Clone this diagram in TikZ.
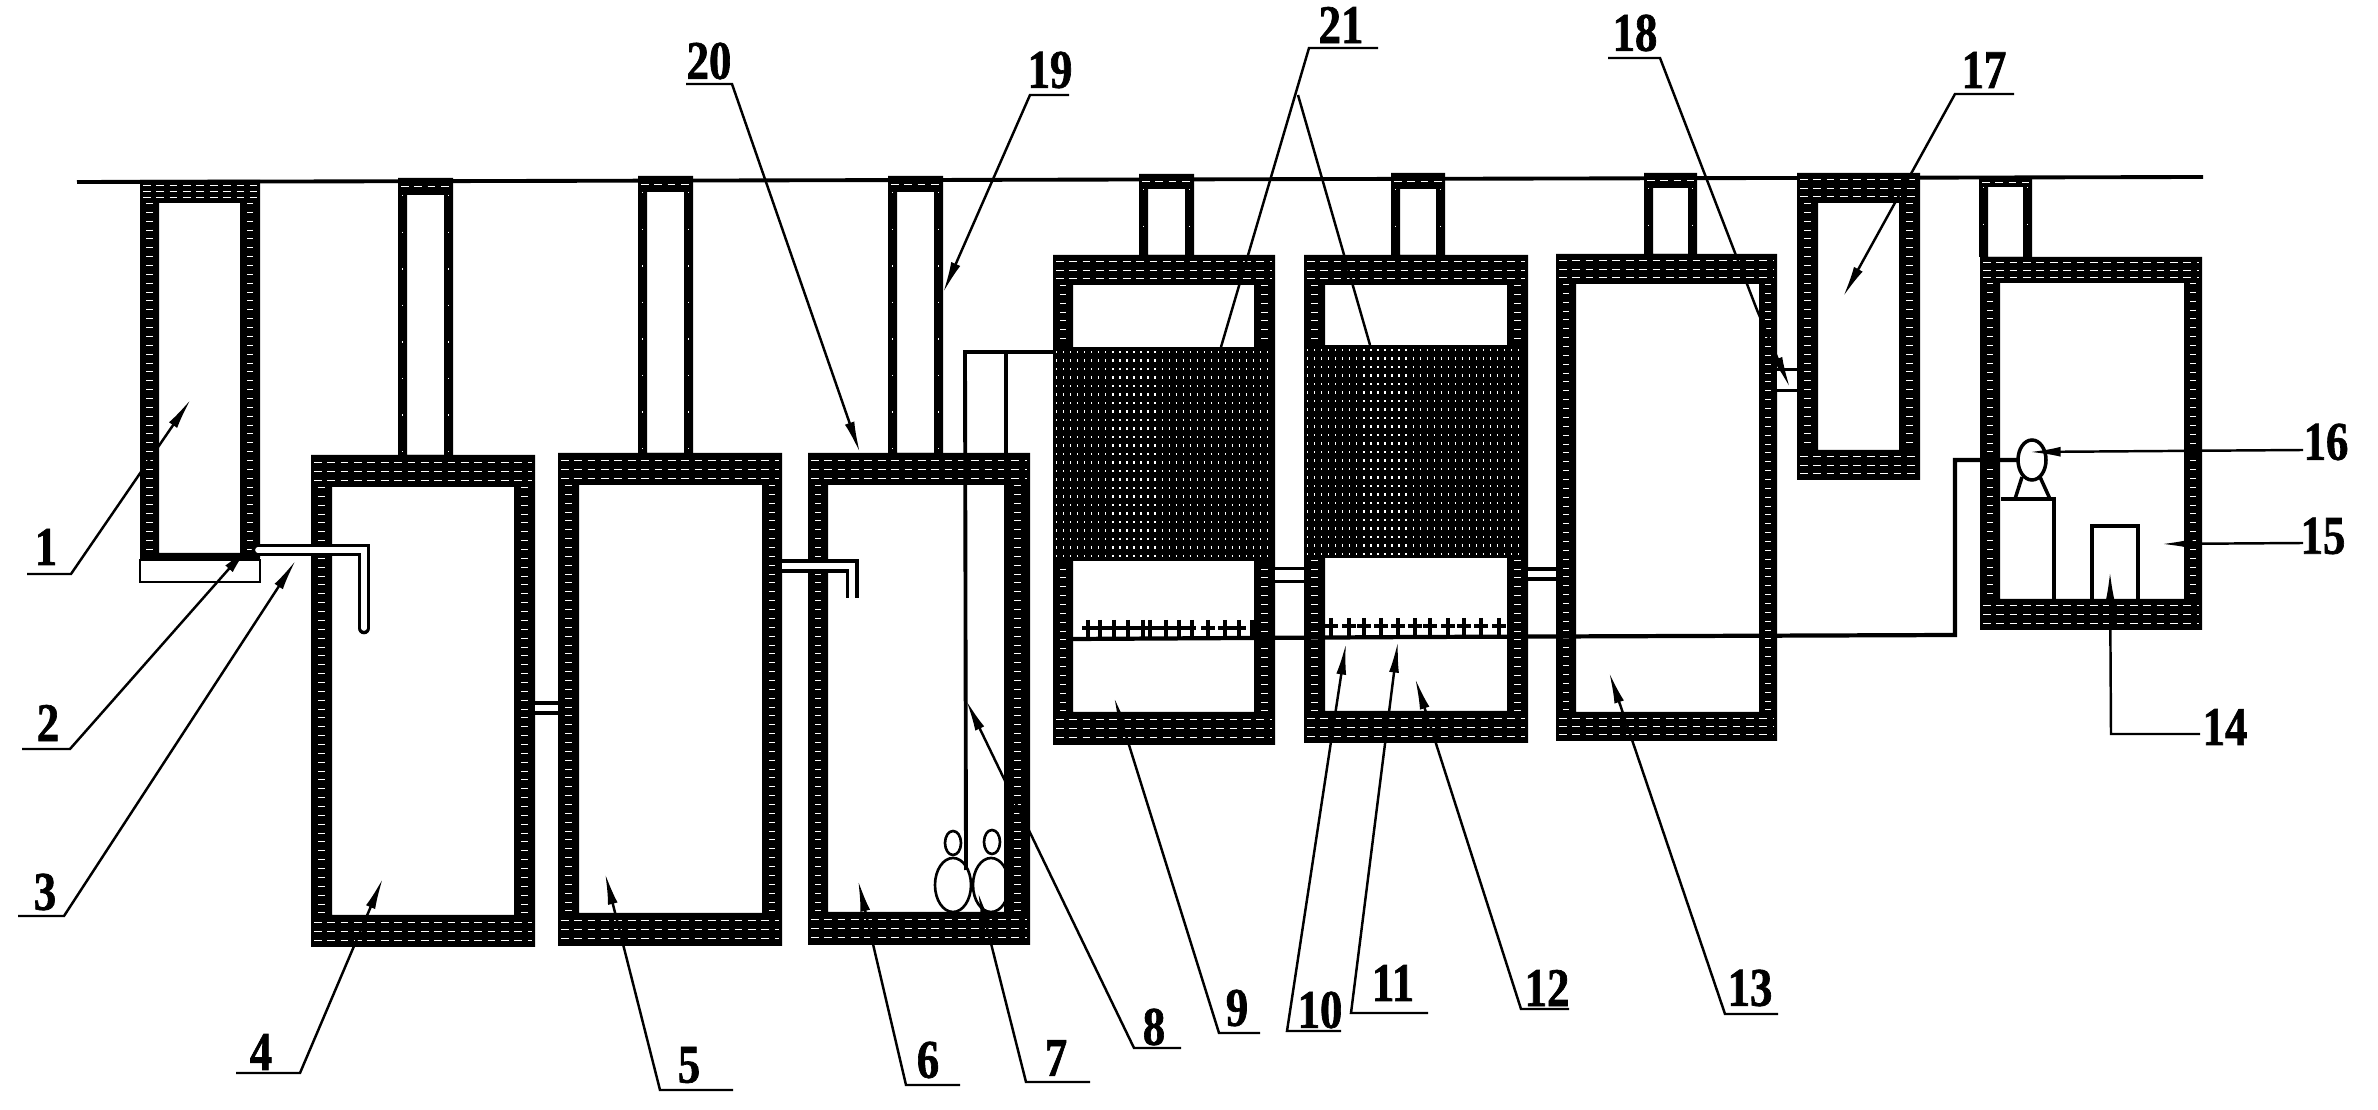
\documentclass[tikz,border=0pt]{standalone}
\usepackage{fontspec}
\usepackage{xcolor}
\usepackage{tikz}
\usetikzlibrary{arrows.meta}
\newfontfamily\numfont[FakeStretch=0.82,BoldFeatures={FakeBold=1.2}]{Liberation Serif}

% wall of a tank: outer corners, then inner corners
\newcommand{\tankwalls}[8]{%
	\fill[even odd rule] (#1,#2) rectangle (#3,#4) (#5,#6) rectangle (#7,#8);
	\foreach \f in {.22,.5,.78} {
		\draw[rowhatch] (#1+3,{#2+\f*(#6-#2)}) -- (#3-3,{#2+\f*(#6-#2)});
		\draw[rowhatch] (#1+3,{#8+\f*(#4-#8)}) -- (#3-3,{#8+\f*(#4-#8)});
	}
	\draw[tickhatch] ({(#1+#5)/2},#6) -- ({(#1+#5)/2},#8);
	\draw[tickhatch] ({(#3+#7)/2},#6) -- ({(#3+#7)/2},#8);
}
% chimney: left, right, top, underside of cap, bottom
\newcommand{\chimney}[5]{%
	\fill[even odd rule] (#1,#3) rectangle (#2,#5) (#1+9,#4) rectangle (#2-9,#5);
	\draw[rowhatch] (#1+3,{(#3+#4)/2}) -- (#2-3,{(#3+#4)/2});
	\draw[speck] (#1+4.5,#4) -- (#1+4.5,#5);
	\draw[speck] (#2-4.5,#4) -- (#2-4.5,#5);
}
% filter media: left, top, right, bottom
\newcommand{\media}[4]{%
	\fill (#1,#2) rectangle (#3,#4);
	\foreach \r in {0,...,24} {
		\draw[meshdots] (#1+3,{#2+5+\r*8.5}) -- (#3-3,{#2+5+\r*8.5});
	}
}

\begin{document}
\begin{tikzpicture}[x=0.01cm,y=-0.01cm]
		\tikzset{
			rowhatch/.style={white, line width=.25pt, dash pattern=on 2.2pt off 1.6pt},
			tickhatch/.style={white, line width=1.9pt, dash pattern=on .22pt off 2.3pt},
			speck/.style={white, line width=.5pt, dash pattern=on .4pt off 10pt},
			meshdots/.style={white, line width=.7pt, dash pattern=on .35pt off 1.65pt},
			groundline/.style={line width=1.1pt},
			pipe/.style={draw, line width=1pt, double=white, double distance=#1},
			airline/.style={line width=1.2pt},
			thinpipe/.style={line width=1.1pt},
			aerator/.style={line width=1.3pt},
			ball/.style={line width=.75pt},
			plain/.style={line width=.75pt},
			leader/.style={line width=.7pt, -{Latex[length=9pt,width=2.8pt]}},
			tag/.style={line width=.7pt},
			numlabel/.style={inner sep=0pt, font=\numfont\bfseries\fontsize{15.5}{15.5}\selectfont}
		}
		\useasboundingbox (0,0) rectangle (2378,1110);

		\draw[groundline] (77,182) -- (2203,177);

		\chimney{398}{453}{178}{195}{455}
		\chimney{638}{693}{176}{192}{453}
		\chimney{888}{943}{176}{192}{453}
		\chimney{1139}{1194}{174}{189}{255}
		\chimney{1391}{1445}{173}{189}{255}
		\chimney{1644}{1697}{173}{188}{254}
		\chimney{1979}{2032}{178}{187}{257}

		\tankwalls{140}{180}{260}{558}{159}{203}{240}{553}
		\tankwalls{311}{455}{535}{947}{332}{487}{514}{915}
		\tankwalls{558}{453}{782}{946}{579}{485}{762}{913}
		\tankwalls{808}{453}{1030}{945}{828}{485}{1005}{912}
		\tankwalls{1053}{255}{1275}{745}{1073}{285}{1254}{712}
		\tankwalls{1304}{255}{1528}{743}{1325}{285}{1507}{711}
		\tankwalls{1556}{254}{1777}{741}{1576}{284}{1759}{712}
		\tankwalls{1797}{173}{1920}{480}{1818}{203}{1899}{450}
		\tankwalls{1980}{257}{2202}{630}{2000}{283}{2184}{599}

		\media{1053}{347}{1275}{561}
		\media{1304}{345}{1528}{558}

		% floor of the first tank and the thin box under it
		\fill (140,553) rectangle (260,560);
		\draw[plain] (140,560) rectangle (260,582);

		% pipes between tanks
		\coordinate (p1a) at (258,550);
		\coordinate (p1b) at (364,550);
		\coordinate (p1c) at (364,628);
		\draw[pipe=1.6pt, line cap=round] (p1a) -- (p1b) -- (p1c);
		\coordinate (p2a) at (535,708);
		\coordinate (p2b) at (558,708);
		\draw[pipe=1.7pt] (p2a) -- (p2b);
		\coordinate (p3a) at (782,566);
		\coordinate (p3b) at (852,566);
		\coordinate (p3c) at (852,598);
		\draw[pipe=1.7pt] (p3a) -- (p3b) -- (p3c);
		\coordinate (p4a) at (1275,575);
		\coordinate (p4b) at (1304,575);
		\draw[pipe=2.6pt] (p4a) -- (p4b);
		\coordinate (p5a) at (1528,574);
		\coordinate (p5b) at (1556,574);
		\draw[pipe=1.7pt] (p5a) -- (p5b);
		\coordinate (p6a) at (1777,380);
		\coordinate (p6b) at (1797,380);
		\draw[pipe=5pt] (p6a) -- (p6b);

		% air feed to the bubble tank
		\coordinate (feedin) at (1053,352);
		\coordinate (feedl) at (965,352);
		\coordinate (feedr) at (1006,352);
		\coordinate (feedlend) at (966,870);
		\coordinate (feedrend) at (1006,912);
		\draw[thinpipe] (feedin) -- (feedl) -- (feedlend);
		\draw[thinpipe] (feedr) -- (feedrend);

		% bubbles
		\draw[ball] (953,885) ellipse (18 and 27);
		\draw[ball] (991,885) ellipse (18 and 27);
		\draw[ball] (953,843) ellipse (8 and 12);
		\draw[ball] (992,842) ellipse (8 and 12);
		\fill (930,912) rectangle (1015,918);

		% air line and aerators
		\coordinate (airs) at (2018,460);
		\coordinate (aira) at (1955,460);
		\coordinate (airb) at (1955,635);
		\coordinate (airc) at (1418,637);
		\coordinate (aird) at (1073,639);
		\draw[airline] (airs) -- (aira) -- (airb) -- (airc) -- (aird);
		\draw[aerator] (1082,628) -- (1196,628);
		\foreach \x in {1088,1100,1114,1128,1143,1150,1166,1179,1192,1208,1225,1239,1252} {
			\draw[aerator] (\x,620) -- (\x,638);
		}
		\foreach \x in {1208,1225,1239} {
			\draw[aerator] (\x-7,628) -- (\x+7,628);
		}
		\foreach \x in {1331,1349,1364,1381,1398,1415,1430,1448,1464,1481,1499} {
			\draw[aerator] (\x,618) -- (\x,637);
			\draw[aerator] (\x-7,626) -- (\x+7,626);
		}

		% blower, its stand and the small box
		\draw[ball, line width=1pt] (2032,460) ellipse (14 and 20);
		\draw[plain, line width=1pt] (2022,477) -- (2015,499);
		\draw[plain, line width=1pt] (2040,477) -- (2050,499);
		\draw[plain, line width=1pt] (2001,499) -- (2054,499) -- (2054,599);
		\draw[plain, line width=1pt] (2092,599) -- (2092,526) -- (2138,526) -- (2138,599);

		% numbered leaders
		\node[numlabel] (lab1) at (46,547) {1};
		\coordinate (und1) at (27,574);
		\coordinate (bend1) at (71,574);
		\coordinate (tip1) at (191,399);
		\draw[leader] (und1) -- (bend1) -- (tip1);

		\node[numlabel] (lab2) at (48,723) {2};
		\coordinate (und2) at (22,749);
		\coordinate (bend2) at (70,749);
		\coordinate (tip2) at (250,545);
		\draw[leader] (und2) -- (bend2) -- (tip2);

		\node[numlabel] (lab3) at (45,892) {3};
		\coordinate (und3) at (18,916);
		\coordinate (bend3) at (64,916);
		\coordinate (tip3) at (296,560);
		\draw[leader] (und3) -- (bend3) -- (tip3);

		\node[numlabel] (lab4) at (261,1052) {4};
		\coordinate (und4) at (236,1073);
		\coordinate (bend4) at (300,1073);
		\coordinate (tip4) at (383,878);
		\draw[leader] (und4) -- (bend4) -- (tip4);

		\node[numlabel] (lab5) at (689,1065) {5};
		\coordinate (und5) at (733,1090);
		\coordinate (bend5) at (660,1090);
		\coordinate (tip5) at (605,873);
		\draw[leader] (und5) -- (bend5) -- (tip5);

		\node[numlabel] (lab6) at (928,1060) {6};
		\coordinate (und6) at (960,1085);
		\coordinate (bend6) at (906,1085);
		\coordinate (tip6) at (858,880);
		\draw[leader] (und6) -- (bend6) -- (tip6);

		\node[numlabel] (lab7) at (1056,1058) {7};
		\coordinate (und7) at (1090,1082);
		\coordinate (bend7) at (1026,1082);
		\coordinate (tip7) at (978,892);
		\draw[leader] (und7) -- (bend7) -- (tip7);

		\node[numlabel] (lab8) at (1154,1027) {8};
		\coordinate (und8) at (1181,1048);
		\coordinate (bend8) at (1134,1048);
		\coordinate (tip8) at (966,700);
		\draw[leader] (und8) -- (bend8) -- (tip8);

		\node[numlabel] (lab9) at (1237,1008) {9};
		\coordinate (und9) at (1260,1033);
		\coordinate (bend9) at (1219,1033);
		\coordinate (tip9) at (1114,697);
		\draw[leader] (und9) -- (bend9) -- (tip9);

		\node[numlabel] (lab10) at (1320,1010) {10};
		\coordinate (und10) at (1341,1031);
		\coordinate (bend10) at (1287,1031);
		\coordinate (tip10) at (1346,643);
		\draw[leader] (und10) -- (bend10) -- (tip10);

		\node[numlabel] (lab11) at (1393,983) {11};
		\coordinate (und11) at (1428,1013);
		\coordinate (bend11) at (1351,1013);
		\coordinate (tip11) at (1398,641);
		\draw[leader] (und11) -- (bend11) -- (tip11);

		\node[numlabel] (lab12) at (1547,988) {12};
		\coordinate (und12) at (1569,1009);
		\coordinate (bend12) at (1521,1009);
		\coordinate (tip12) at (1415,678);
		\draw[leader] (und12) -- (bend12) -- (tip12);

		\node[numlabel] (lab13) at (1750,988) {13};
		\coordinate (und13) at (1778,1014);
		\coordinate (bend13) at (1725,1014);
		\coordinate (tip13) at (1609,672);
		\draw[leader] (und13) -- (bend13) -- (tip13);

		\node[numlabel] (lab14) at (2225,727) {14};
		\coordinate (und14) at (2200,734);
		\coordinate (bend14) at (2111,734);
		\coordinate (tip14) at (2110,571);
		\draw[leader] (und14) -- (bend14) -- (tip14);

		\node[numlabel] (lab15) at (2323,536) {15};
		\coordinate (und15) at (2303,543);
		\coordinate (tip15) at (2161,544);
		\draw[leader] (und15) -- (tip15);

		\node[numlabel] (lab16) at (2326,442) {16};
		\coordinate (und16) at (2303,450);
		\coordinate (tip16) at (2029,452);
		\draw[leader] (und16) -- (tip16);

		\node[numlabel] (lab17) at (1984,70) {17};
		\coordinate (und17) at (2014,94);
		\coordinate (bend17) at (1955,94);
		\coordinate (tip17) at (1843,297);
		\draw[leader] (und17) -- (bend17) -- (tip17);

		\node[numlabel] (lab18) at (1635,33) {18};
		\coordinate (und18) at (1608,58);
		\coordinate (bend18) at (1660,58);
		\coordinate (knee18) at (1757,310);
		\coordinate (tip18) at (1790,388);
		\draw[leader] (und18) -- (bend18) -- (knee18) -- (tip18);

		\node[numlabel] (lab19) at (1050,70) {19};
		\coordinate (und19) at (1069,95);
		\coordinate (bend19) at (1030,95);
		\coordinate (tip19) at (943,293);
		\draw[leader] (und19) -- (bend19) -- (tip19);

		\node[numlabel] (lab20) at (709,61) {20};
		\coordinate (und20) at (686,84);
		\coordinate (bend20) at (732,84);
		\coordinate (tip20) at (860,453);
		\draw[leader] (und20) -- (bend20) -- (tip20);

		\node[numlabel] (lab21) at (1341,25) {21};
		\coordinate (und21) at (1378,48);
		\coordinate (bend21) at (1309,48);
		\coordinate (fork21) at (1298,95);
		\coordinate (endl21) at (1221,347);
		\coordinate (endr21) at (1370,345);
		\draw[tag] (und21) -- (bend21) -- (endl21);
		\draw[tag] (fork21) -- (endr21);
\end{tikzpicture}
\end{document}
